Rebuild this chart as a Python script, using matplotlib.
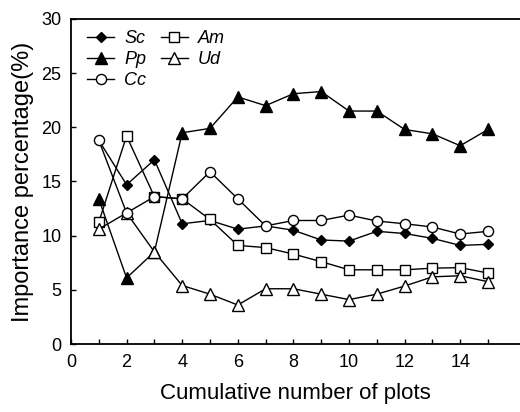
import matplotlib
matplotlib.use("Agg")
import matplotlib.pyplot as plt

plt.rcParams['font.family'] = ['Liberation Sans', 'DejaVu Sans']

plots = list(range(1, 16))
sc = [18.8, 14.7, 17.0, 11.1, 11.4, 10.6, 10.9, 10.5, 9.6, 9.5, 10.4, 10.2, 9.75, 9.1, 9.2]
pp = [13.4, 6.1, 8.5, 19.5, 19.9, 22.8, 22.0, 23.1, 23.3, 21.5, 21.5, 19.8, 19.4, 18.3, 19.8]
cc = [18.8, 12.1, 13.6, 13.4, 15.9, 13.4, 10.9, 11.4, 11.4, 11.9, 11.35, 11.1, 10.8, 10.15, 10.4]
am = [11.25, 19.2, 13.6, 13.4, 11.5, 9.1, 8.9, 8.3, 7.6, 6.85, 6.85, 6.85, 7.0, 7.05, 6.55]
ud = [10.6, 12.1, 8.5, 5.4, 4.6, 3.6, 5.1, 5.1, 4.6, 4.1, 4.6, 5.35, 6.2, 6.3, 5.75]

xticks_major = [0, 2, 4, 6, 8, 10, 12, 14]
yticks = [0, 5, 10, 15, 20, 25, 30]

fig = plt.figure(figsize=(5.2, 4.12), dpi=100)
ax = fig.add_axes([0.1365, 0.165, 0.8635, 0.789])

# (values, name, marker style, drawing order)
series = [
    (sc, 'Sc', dict(marker='D', mfc='black', ms=5.5), 2),
    (pp, 'Pp', dict(marker='^', mfc='black', ms=8), 3),
    (cc, 'Cc', dict(marker='o', mfc='white', ms=7.3), 6),
    (am, 'Am', dict(marker='s', mfc='white', ms=7.2), 4),
    (ud, 'Ud', dict(marker='^', mfc='white', ms=8.3), 5),
]
handles = []
for vals, name, style, z in series:
    h, = ax.plot(plots, vals, color='black', lw=1.0, mec='black', mew=1.0,
                 label=name, zorder=z, **style)
    handles.append(h)

ax.set_xlim(0, 16.15)
ax.set_ylim(0, 30)
ax.set_xticks(xticks_major)
ax.set_xticks(plots, minor=True)
ax.set_yticks(yticks)
ax.tick_params(axis='both', which='both', direction='in', length=3.5,
               width=1.0, labelsize=13)
ax.tick_params(axis='x', which='both', pad=7.5)
ax.tick_params(axis='y', which='both', pad=7)
for side in ('left', 'bottom', 'top'):
    ax.spines[side].set_linewidth(1.3)
ax.spines['right'].set_visible(False)

ax.set_xlabel('Cumulative number of plots', fontsize=16, labelpad=8)
ax.set_ylabel('Importance percentage(%)', fontsize=17, labelpad=5)

leg = ax.legend(handles=handles, ncol=2, loc='upper left',
                bbox_to_anchor=(0.036, 0.965), frameon=False,
                prop=dict(style='italic', size=13),
                handlelength=1.5, handletextpad=0.55, columnspacing=0.8,
                labelspacing=0.22, borderaxespad=0.0, borderpad=0.0)

fig.savefig('out.png', dpi=100)
